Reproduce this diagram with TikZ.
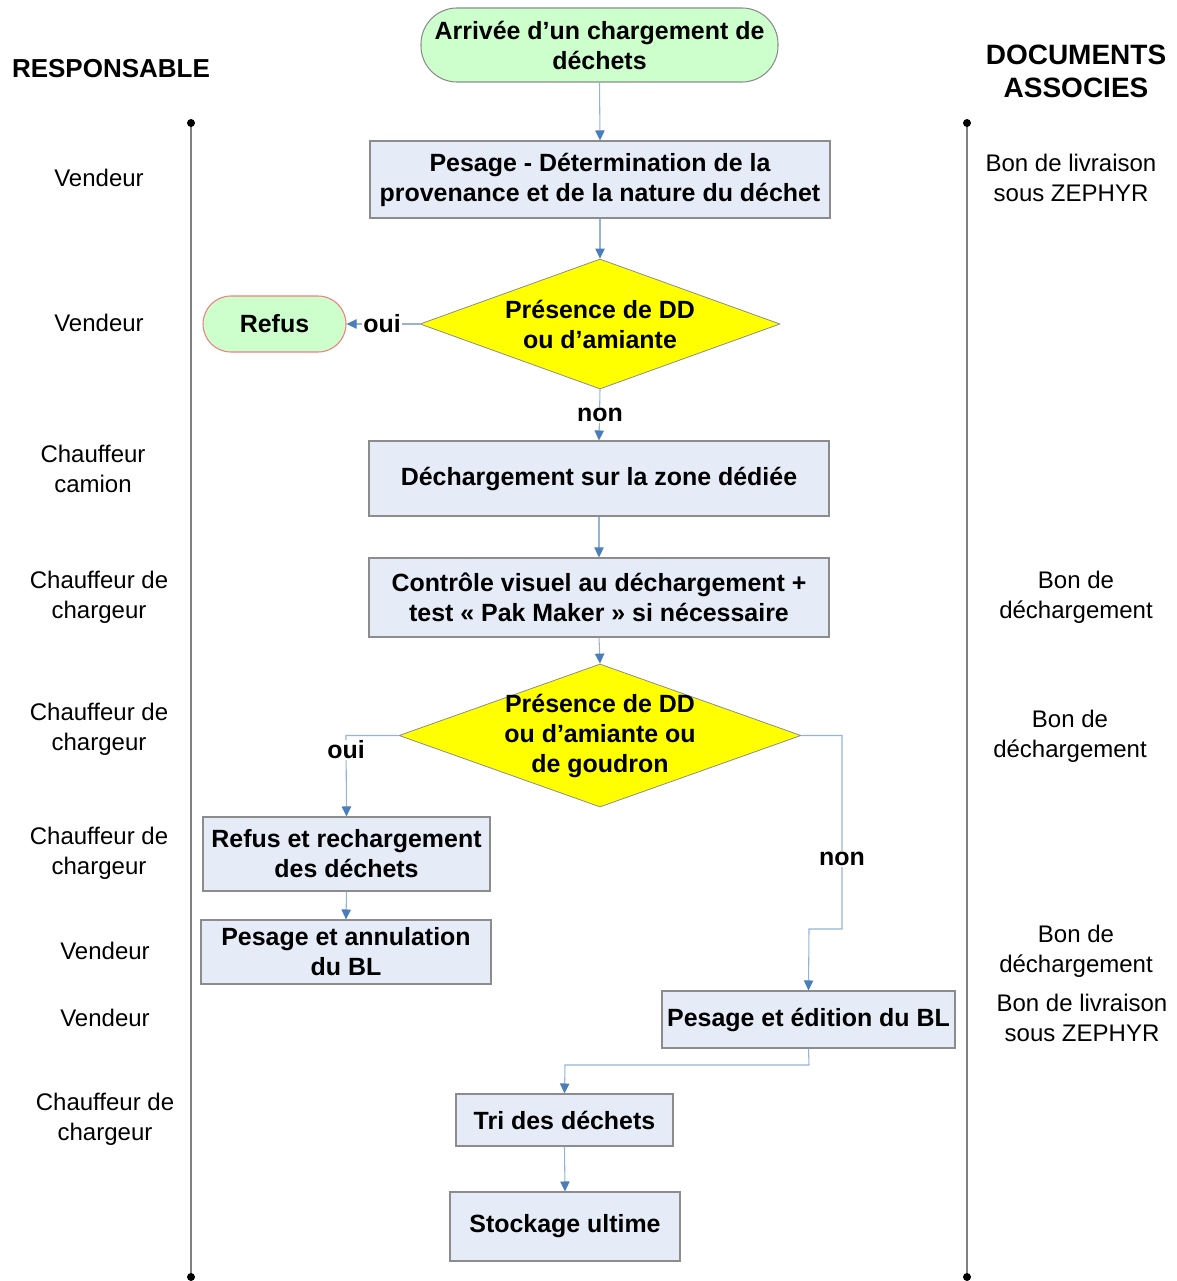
\documentclass[tikz,border=0pt]{standalone}
\usepackage{fontspec}
\setmainfont{Liberation Sans}
\usetikzlibrary{arrows.meta,shapes.geometric}
\definecolor{boxfill}{RGB}{230,236,247}
\definecolor{boxline}{RGB}{140,140,140}
\definecolor{termfill}{RGB}{204,255,204}
\definecolor{refusline}{RGB}{240,128,128}
\definecolor{decfill}{RGB}{255,255,0}
\definecolor{connline}{RGB}{149,179,215}
\definecolor{conntip}{RGB}{74,126,187}
\definecolor{swim}{RGB}{128,128,128}
\begin{document}
\begin{tikzpicture}[x=0.75pt,y=-0.75pt,
  every node/.style={align=center,font=\fontsize{18}{22.5}\selectfont},
  proc/.style={draw=boxline,fill=boxfill,inner sep=0pt,line width=0.8pt,
    font=\bfseries\fontsize{18.7}{22.5}\selectfont},
  term/.style={draw=boxline,fill=termfill,inner sep=0pt,line width=0.8pt,
    font=\bfseries\fontsize{18.7}{22.5}\selectfont},
  decision/.style={diamond,draw=boxline,fill=decfill,inner sep=0pt,line width=0.6pt},
  dtext/.style={font=\bfseries\fontsize{18.7}{22.5}\selectfont},
  conn/.style={draw=connline,line width=0.8pt,
    -{Triangle[length=7.5pt,width=7pt,color=conntip]}},
  lbl/.style={fill=white,inner sep=1pt,font=\bfseries\fontsize{18.7}{22.5}\selectfont},
  role/.style={font=\fontsize{18}{22.5}\selectfont},
  swimline/.style={draw=swim,line width=0.8pt},
]
\useasboundingbox (0,0) rectangle (1177,1281);

% headers
\node[font=\bfseries\fontsize{19.5}{24}\selectfont] (hresp) at (111,69) {RESPONSABLE};
\node[font=\bfseries\fontsize{21}{24.75}\selectfont] (hdoc) at (1076,71) {DOCUMENTS\\ASSOCIES};

% swim lines
\coordinate (lt) at (191,123); \coordinate (lb) at (191,1277);
\coordinate (rt) at (967,123); \coordinate (rb) at (967,1277);
\draw[swimline] (lt) -- (lb);
\draw[swimline] (rt) -- (rb);
\fill (lt) circle (3pt); \fill (lb) circle (3pt);
\fill (rt) circle (3pt); \fill (rb) circle (3pt);

% flow nodes
\node[term,rounded corners=27pt,minimum width=267.75pt,minimum height=55.5pt] (start) at (599.5,45) {Arrivée d’un chargement de\\déchets};
\node[proc,minimum width=345pt,minimum height=57.75pt] (pes) at (600,179.5) {Pesage - Détermination de la\\provenance et de la nature du déchet};
\node[decision,minimum width=270pt,minimum height=97.5pt] (d1) at (600,324) {};
\node[dtext] (d1t) at (600,324) {Présence de DD\\ou d’amiante};
\node[term,draw=refusline,rounded corners=21pt,minimum width=107.25pt,minimum height=42pt] (refus) at (274.5,324) {Refus};
\node[proc,minimum width=345pt,minimum height=56.25pt] (dech) at (599,478.5) {Déchargement sur la zone dédiée};
\node[proc,minimum width=345pt,minimum height=59.25pt] (ctrl) at (599,597.5) {Contrôle visuel au déchargement +\\test «~Pak Maker~» si nécessaire};
\node[decision,minimum width=301.5pt,minimum height=107.25pt] (d2) at (600,735.5) {};
\node[dtext] (d2t) at (600,735.5) {Présence de DD\\ou d’amiante ou\\de goudron};
\node[proc,minimum width=215.25pt,minimum height=55.5pt] (rech) at (346.5,854) {Refus et rechargement\\des déchets};
\node[proc,minimum width=217.5pt,minimum height=48pt] (annul) at (346,952) {Pesage et annulation\\du BL};
\node[proc,minimum width=219.75pt,minimum height=42.75pt] (edit) at (808.5,1019.5) {Pesage et édition du BL};
\node[proc,minimum width=162.75pt,minimum height=39pt] (tri) at (564.5,1120) {Tri des déchets};
\node[proc,minimum width=172.5pt,minimum height=51.75pt] (stock) at (565,1226.5) {Stockage ultime};

% connectors
\draw[conn] (start.south) -- (pes.north);
\draw[conn] (pes.south) -- (d1.north);
\draw[conn] (d1.west) -- (refus.east);
\node[lbl] (oui1) at (382,324) {oui};
\draw[conn] (d1.south) -- (dech.north);
\node[lbl] (non1) at (600,415) {non};
\draw[conn] (dech.south) -- (ctrl.north);
\draw[conn] (ctrl.south) -- (d2.north);
\coordinate (c1) at (346,735.5);
\draw[conn] (d2.west) -- (c1) -- (rech.north);
\node[lbl] (oui2) at (346,750) {oui};
\draw[conn] (rech.south) -- (annul.north);
\coordinate (c2) at (842,735.5);
\coordinate (c3) at (842,929);
\coordinate (c4) at (809,929);
\draw[conn] (d2.east) -- (c2) -- (c3) -- (c4) -- (edit.north);
\node[lbl] (non2) at (842,859) {non};
\coordinate (c5) at (809,1065);
\coordinate (c6) at (565,1065);
\draw[conn] (edit.south) -- (c5) -- (c6) -- (tri.north);
\draw[conn] (tri.south) -- (stock.north);

% roles
\node[role] (r1) at (99,178) {Vendeur};
\node[role] (r2) at (99,323) {Vendeur};
\node[role] (r3) at (93,469) {Chauffeur\\camion};
\node[role] (r4) at (99,597) {Chauffeur de\\chargeur};
\node[role] (r5) at (99,729) {Chauffeur de\\chargeur};
\node[role] (r6) at (99,853) {Chauffeur de\\chargeur};
\node[role] (r7) at (105,951) {Vendeur};
\node[role] (r8) at (105,1018) {Vendeur};
\node[role] (r9) at (105,1119) {Chauffeur de\\chargeur};

% documents
\node[role] (doc1) at (1071,178) {Bon de livraison\\sous ZEPHYR};
\node[role] (doc2) at (1076,597) {Bon de\\déchargement};
\node[role] (doc3) at (1070,736) {Bon de\\déchargement};
\node[role] (doc4) at (1076,951) {Bon de\\déchargement};
\node[role] (doc5) at (1082,1018) {Bon de livraison\\sous ZEPHYR};
\end{tikzpicture}
\end{document}
